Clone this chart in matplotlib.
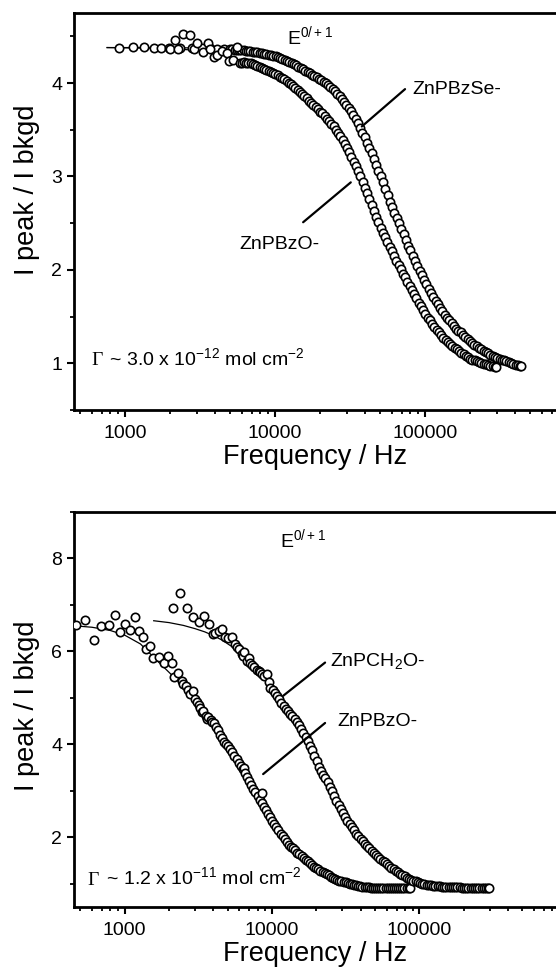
import matplotlib
matplotlib.use('Agg')
import matplotlib.pyplot as plt
from matplotlib.ticker import FixedLocator, MultipleLocator, LogLocator, FuncFormatter, NullFormatter

plt.rcParams['font.family'] = ['Liberation Sans', 'DejaVu Sans']
plt.rcParams['mathtext.fontset'] = 'custom'
plt.rcParams['mathtext.rm'] = 'Liberation Sans'
plt.rcParams['mathtext.it'] = 'Liberation Sans:italic'
plt.rcParams['mathtext.bf'] = 'Liberation Sans:bold'

# ================= data (frequency Hz, I_peak/I_bkgd) =================
# ---- top panel: Gamma ~ 3.0e-12 mol cm-2 ----
top_bzo = [
    (1995, 4.36), (2160, 4.46), (2265, 4.36), (2430, 4.53), (2720, 4.51), (2900, 4.36), (3020, 4.43),
    (3300, 4.33), (3550, 4.43), (3700, 4.36), (3950, 4.28), (4100, 4.30), (4400, 4.34), (4800, 4.32),
    (4950, 4.24), (5250, 4.25), (5570, 4.39), (5800, 4.21), (6010, 4.22),
    (6200, 4.23), (6420, 4.22), (6650, 4.215), (6880, 4.21), (7120, 4.20), (7370, 4.19), (7630, 4.18),
    (7900, 4.17), (8170, 4.16), (8460, 4.15), (8750, 4.14), (9060, 4.13), (9380, 4.12), (9710, 4.11),
    (10050, 4.10), (10400, 4.085), (10760, 4.07), (11140, 4.055), (11530, 4.04), (11930, 4.02),
    (12350, 4.005), (12780, 3.99), (13230, 3.97), (13690, 3.95), (14170, 3.93), (14670, 3.905),
    (15180, 3.885), (15710, 3.86), (16260, 3.835), (16830, 3.81), (17420, 3.79), (18030, 3.765),
    (18660, 3.74), (19310, 3.72), (19990, 3.69), (20690, 3.68), (21410, 3.65), (22160, 3.62),
    (22940, 3.59), (23740, 3.56), (24570, 3.535), (25430, 3.50), (26320, 3.465), (27240, 3.43),
    (28190, 3.39), (29180, 3.35), (30200, 3.30), (31260, 3.26), (32350, 3.21), (33480, 3.16),
    (34650, 3.11), (35860, 3.06), (37120, 3.00), (38420, 2.94), (39760, 2.88), (41150, 2.82),
    (42590, 2.76), (44080, 2.69), (45620, 2.63), (47220, 2.57), (48870, 2.51), (50580, 2.45),
    (52350, 2.40), (54180, 2.35), (56080, 2.30), (58040, 2.25), (60070, 2.20), (62170, 2.15),
    (64350, 2.10), (66600, 2.05), (68930, 2.01), (71340, 1.96), (73840, 1.92), (76420, 1.87),
    (79100, 1.83), (81860, 1.78), (84730, 1.74), (87690, 1.70), (90760, 1.65), (93940, 1.61),
    (97230, 1.57), (100630, 1.53), (104150, 1.49), (107800, 1.46), (111570, 1.42), (115470, 1.39),
    (119520, 1.36), (123700, 1.33), (128030, 1.30), (132510, 1.27), (137150, 1.25), (141950, 1.23),
    (146920, 1.21), (152060, 1.19), (157380, 1.16), (162890, 1.15), (168590, 1.13), (174490, 1.11),
    (180600, 1.10), (186920, 1.08), (193460, 1.07), (200230, 1.05), (207240, 1.04), (214490, 1.03),
    (222000, 1.02), (229770, 1.01), (237810, 1.00), (246130, 0.995), (254750, 0.99), (263660, 0.98),
    (272890, 0.975), (282440, 0.97), (292330, 0.965), (296000, 0.96)]

top_bzse = [
    (907, 4.38), (1125, 4.385), (1345, 4.39), (1567, 4.38), (1745, 4.375), (1954, 4.38), (2335, 4.38),
    (2790, 4.375), (3260, 4.37), (3700, 4.37), (4100, 4.365), (4540, 4.36),
    (5000, 4.36), (5180, 4.36), (5370, 4.355), (5560, 4.355), (5760, 4.35), (5960, 4.35), (6170, 4.35),
    (6390, 4.345), (6620, 4.34), (6860, 4.34), (7100, 4.335), (7360, 4.33), (7620, 4.33), (7890, 4.325),
    (8170, 4.32), (8460, 4.315), (8760, 4.31), (9080, 4.305), (9400, 4.30), (9740, 4.295), (10090, 4.29),
    (10450, 4.28), (10820, 4.27), (11200, 4.26), (11600, 4.25), (12020, 4.24), (12450, 4.23),
    (12890, 4.215), (13350, 4.20), (13830, 4.19), (14320, 4.175), (14830, 4.16), (15360, 4.15),
    (15910, 4.13), (16480, 4.12), (17070, 4.105), (17680, 4.09), (18310, 4.075), (18960, 4.06),
    (19640, 4.045), (20340, 4.03), (21070, 4.01), (21820, 4.00), (22600, 3.98), (23400, 3.96),
    (24240, 3.935), (25110, 3.91), (26000, 3.885), (26930, 3.86), (27890, 3.83), (28890, 3.80),
    (29920, 3.77), (30990, 3.73), (32100, 3.70), (33240, 3.66), (34430, 3.62), (35660, 3.57),
    (36930, 3.52), (38250, 3.47), (39620, 3.42), (41030, 3.36), (42500, 3.31), (44020, 3.25),
    (45590, 3.19), (47220, 3.12), (48900, 3.06), (50650, 3.00), (52460, 2.94), (54330, 2.87),
    (56270, 2.80), (58280, 2.73), (60370, 2.67), (62520, 2.61), (64750, 2.56), (67070, 2.50),
    (69460, 2.44), (71940, 2.38), (74510, 2.32), (77170, 2.26), (79930, 2.21), (82780, 2.15),
    (85740, 2.10), (88800, 2.04), (91970, 1.99), (95250, 1.94), (98660, 1.89), (102180, 1.85),
    (105830, 1.80), (109610, 1.75), (113520, 1.71), (117580, 1.67), (121780, 1.63), (126130, 1.59),
    (130630, 1.56), (135300, 1.52), (140130, 1.49), (145130, 1.46), (150320, 1.43), (155690, 1.40),
    (161250, 1.37), (167000, 1.35), (172970, 1.33), (179150, 1.30), (185550, 1.28), (192170, 1.26),
    (199040, 1.24), (206150, 1.22), (213510, 1.20), (221140, 1.18), (229040, 1.16), (237220, 1.15),
    (245690, 1.13), (254470, 1.12), (263560, 1.11), (272970, 1.09), (282720, 1.08), (292820, 1.07),
    (303280, 1.06), (314110, 1.05), (325330, 1.04), (336950, 1.03), (348980, 1.02), (361450, 1.01),
    (374360, 1.00), (387730, 0.99), (401580, 0.985), (415920, 0.98), (430780, 0.97), (436000, 0.97)]

top_bzse_fit = [
    (760, 4.38), (1000, 4.38), (2000, 4.38), (3000, 4.375), (4000, 4.37), (5000, 4.36), (6000, 4.35),
    (7000, 4.34), (8000, 4.325), (9000, 4.31), (10000, 4.29), (12500, 4.23), (15600, 4.15),
    (19500, 4.06), (23000, 3.97), (27100, 3.85), (30200, 3.75), (33700, 3.63), (37500, 3.49),
    (41800, 3.33), (46500, 3.15), (51800, 2.97), (57700, 2.77), (64300, 2.57), (71600, 2.39),
    (79700, 2.21), (88700, 2.04), (98800, 1.89), (110000, 1.75), (122000, 1.63), (136000, 1.52),
    (151000, 1.43), (168000, 1.35), (187000, 1.28), (208000, 1.22), (231000, 1.16), (257000, 1.12),
    (286000, 1.08), (318000, 1.05), (353000, 1.02), (392000, 0.99), (436000, 0.97)]
top_bzo_fit = [
    (760, 4.38), (2000, 4.37), (3000, 4.35), (4000, 4.32), (5000, 4.28), (6000, 4.24), (7000, 4.20),
    (8200, 4.16), (10000, 4.09), (12000, 4.01), (14000, 3.93), (16300, 3.83), (18900, 3.73),
    (22100, 3.62), (25800, 3.49), (30000, 3.31), (34600, 3.11), (39800, 2.87), (45700, 2.62),
    (52500, 2.39), (60200, 2.19), (69000, 2.00), (79400, 1.80), (91200, 1.62), (105000, 1.47),
    (120000, 1.34), (138000, 1.23), (158000, 1.15), (182000, 1.09), (209000, 1.04), (240000, 1.00),
    (275000, 0.97), (295000, 0.96)]

# ---- bottom panel: Gamma ~ 1.2e-11 mol cm-2 ----
bot_bzo = [
    (470, 6.56), (541, 6.68), (622, 6.25), (695, 6.54), (778, 6.57), (855, 6.79), (935, 6.41),
    (1010, 6.59), (1093, 6.46), (1181, 6.74), (1244, 6.45), (1331, 6.32), (1395, 6.05), (1493, 6.12),
    (1556, 5.85), (1701, 5.87), (1840, 5.76), (1968, 5.91), (2095, 5.74), (2173, 5.44), (2302, 5.53),
    (2450, 5.37), (2500, 5.30), (2600, 5.25), (2700, 5.18), (2793, 5.08), (2900, 5.15), (3000, 4.98),
    (3100, 4.92), (3200, 4.85), (3264, 4.79), (3350, 4.70), (3400, 4.72), (3550, 4.62), (3620, 4.55),
    (3700, 4.58), (3850, 4.52), (3930, 4.48),
    (4020, 4.45), (4150, 4.38), (4290, 4.30), (4430, 4.20), (4580, 4.13), (4730, 4.06), (4890, 4.01),
    (5050, 3.96), (5210, 3.91), (5390, 3.84), (5560, 3.76), (5750, 3.68), (5940, 3.60), (6140, 3.53),
    (6340, 3.46), (6450, 3.50), (6550, 3.38), (6770, 3.30), (6990, 3.21), (7230, 3.13), (7470, 3.05),
    (7710, 2.97), (7970, 2.89), (8240, 2.81), (8510, 2.73), (8550, 2.95), (8790, 2.66), (9090, 2.58),
    (9390, 2.50), (9700, 2.43), (10030, 2.36), (10360, 2.29), (10710, 2.22), (11060, 2.15),
    (11430, 2.08), (11810, 2.02), (12210, 1.96), (12610, 1.90), (13030, 1.84), (13470, 1.80),
    (13920, 1.76), (14380, 1.72), (14860, 1.67), (15350, 1.63), (15870, 1.59), (16390, 1.55),
    (16940, 1.51), (17510, 1.48), (18090, 1.44), (18690, 1.41), (19320, 1.37), (19960, 1.34),
    (20620, 1.31), (21310, 1.28), (22020, 1.25), (22760, 1.23), (23520, 1.20), (24300, 1.18),
    (25110, 1.15), (25950, 1.13), (26810, 1.11), (27710, 1.09), (28630, 1.07), (29590, 1.06),
    (30570, 1.04), (31590, 1.03), (32650, 1.01), (33740, 1.00), (34860, 0.99), (36020, 0.98),
    (37220, 0.97), (38460, 0.96), (39750, 0.95), (41070, 0.94), (42440, 0.935), (43850, 0.93),
    (45320, 0.92), (46830, 0.915), (48390, 0.91), (50000, 0.91), (51670, 0.905), (53390, 0.905),
    (55170, 0.90), (57010, 0.90), (58910, 0.90), (60880, 0.90), (62900, 0.90), (65000, 0.90),
    (67170, 0.90), (69410, 0.90), (71720, 0.90), (74110, 0.90), (76590, 0.90), (79140, 0.90),
    (81780, 0.90), (84510, 0.90), (86000, 0.90)]
bot_bzo_fit = [
    (460, 6.55), (600, 6.52), (800, 6.45), (1000, 6.35), (1280, 6.16), (1660, 5.80), (2000, 5.55),
    (2400, 5.30), (2800, 5.05), (3300, 4.76), (3900, 4.45), (4600, 4.10), (5300, 3.78), (6100, 3.45),
    (7000, 3.13), (8000, 2.82), (9300, 2.50), (10800, 2.20), (12500, 1.93), (14500, 1.70),
    (17000, 1.50), (20000, 1.34), (24000, 1.21), (29000, 1.11), (35000, 1.04), (43000, 0.99),
    (55000, 0.96), (70000, 0.94), (86000, 0.93)]

bot_ch2o = [
    (2130, 6.93), (2388, 7.26), (2650, 6.93), (2910, 6.74), (3180, 6.64), (3437, 6.77), (3716, 6.59),
    (3980, 6.38), (4100, 6.40), (4350, 6.45), (4580, 6.48), (4820, 6.30), (5000, 6.28), (5350, 6.30),
    (5600, 6.15), (5790, 6.09), (6000, 6.05), (6250, 5.94), (6400, 5.90), (6500, 5.98), (6760, 5.80),
    (7000, 5.85), (7100, 5.75), (7300, 5.70), (7510, 5.66), (7900, 5.60), (8100, 5.58), (8340, 5.55),
    (8600, 5.52), (8800, 5.48), (9250, 5.51), (9500, 5.35),
    (9750, 5.22), (10090, 5.16), (10440, 5.10), (10800, 5.04), (11180, 4.97), (11570, 4.90),
    (11970, 4.83), (12390, 4.77), (12820, 4.71), (13270, 4.65), (13740, 4.60), (14220, 4.54),
    (14720, 4.48), (15230, 4.41), (15760, 4.34), (16310, 4.25), (16880, 4.16), (17470, 4.07),
    (18080, 3.96), (18710, 3.87), (19370, 3.76), (20050, 3.64), (20750, 3.52), (21470, 3.43),
    (22220, 3.35), (23000, 3.27), (23800, 3.18), (24640, 3.09), (25500, 2.99), (26390, 2.89),
    (27310, 2.79), (28270, 2.69), (29260, 2.61), (30280, 2.52), (31340, 2.44), (32440, 2.36),
    (33570, 2.29), (34750, 2.22), (35960, 2.15), (37220, 2.08), (38520, 2.02), (39870, 1.96),
    (41260, 1.91), (42710, 1.86), (44200, 1.81), (45750, 1.76), (47350, 1.71), (49000, 1.67),
    (50720, 1.62), (52490, 1.58), (54330, 1.54), (56230, 1.50), (58200, 1.46), (60230, 1.42),
    (62340, 1.38), (64520, 1.35), (66780, 1.31), (69110, 1.28), (71530, 1.25), (74040, 1.22),
    (76630, 1.19), (79310, 1.16), (82080, 1.13), (84950, 1.11), (87930, 1.09), (91000, 1.07),
    (94190, 1.05), (97490, 1.03), (100900, 1.01), (104430, 1.00), (108090, 0.99), (111870, 0.98),
    (115790, 0.97), (119840, 0.965), (124030, 0.96), (128370, 0.955), (132870, 0.95), (137520, 0.945),
    (142330, 0.94), (147310, 0.935), (152470, 0.93), (157800, 0.93), (163330, 0.925), (169040, 0.925),
    (174960, 0.92), (181080, 0.92), (187420, 0.92), (193980, 0.915), (200770, 0.915), (207800, 0.915),
    (215070, 0.91), (222600, 0.91), (230390, 0.91), (238450, 0.91), (246800, 0.91), (255440, 0.91),
    (264380, 0.91), (273630, 0.91), (283200, 0.91), (293120, 0.91), (296000, 0.91)]
bot_ch2o_fit = [
    (1574, 6.66), (2000, 6.62), (2500, 6.56), (3000, 6.49), (3500, 6.42), (4000, 6.34), (4600, 6.24),
    (5300, 6.11), (6000, 5.98), (7000, 5.79), (8000, 5.60), (9000, 5.42), (10000, 5.22), (11000, 5.04),
    (12000, 4.85), (13300, 4.62), (14800, 4.37), (16400, 4.12), (18200, 3.85), (20200, 3.56),
    (22400, 3.27), (24900, 2.98), (27600, 2.70), (30600, 2.43), (34000, 2.18), (38200, 1.94),
    (44100, 1.71), (51500, 1.50), (60400, 1.33), (71000, 1.19), (82400, 1.09), (96000, 1.02),
    (112000, 0.98), (131000, 0.95), (170000, 0.93), (225000, 0.92), (296000, 0.91)]

x_major = [1000, 10000, 100000]
top_yticks = [1, 2, 3, 4]
bot_yticks = [2, 4, 6, 8]


def fx(series):
    return [p[0] for p in series]


def fy(series):
    return [p[1] for p in series]


# ================= figure =================
W, H = 556, 969
fig = plt.figure(figsize=(W / 100, H / 100), dpi=100)
ax1 = fig.add_axes([74 / W, (H - 410) / H, (W - 74) / W, (410 - 13) / H])
ax2 = fig.add_axes([74 / W, (H - 907) / H, (W - 74) / W, (907 - 512) / H])

mk = dict(linestyle='none', marker='o', mfc='white', mec='black', ms=6.0, mew=1.2, zorder=3)
ln = dict(color='black', lw=0.9, zorder=2)


def style(ax, xlim, ylim, yticks, yminor, ylabel_y):
    ax.set_xscale('log')
    ax.set_xlim(*xlim)
    ax.set_ylim(*ylim)
    ax.xaxis.set_major_locator(FixedLocator(x_major))
    ax.xaxis.set_major_formatter(FuncFormatter(lambda v, p: f"{v:.0f}"))
    ax.xaxis.set_minor_locator(LogLocator(base=10, subs=range(2, 10), numticks=20))
    ax.xaxis.set_minor_formatter(NullFormatter())
    ax.yaxis.set_major_locator(FixedLocator(yticks))
    ax.yaxis.set_minor_locator(MultipleLocator(yminor))
    ax.spines['right'].set_visible(False)
    for s in ('left', 'bottom', 'top'):
        ax.spines[s].set_linewidth(2.0)
    ax.tick_params(which='major', direction='out', length=5, width=1.5, labelsize=14,
                   top=False, right=False)
    ax.tick_params(which='minor', direction='out', length=3, width=1.3, top=False, right=False)
    ax.tick_params(axis='x', which='major', pad=6)
    ax.tick_params(axis='y', which='major', pad=3.5)
    ax.set_xlabel('Frequency / Hz', fontsize=19.5, labelpad=1)
    ax.set_ylabel('I peak / I bkgd', fontsize=19.5)
    ax.yaxis.set_label_coords(-0.07, ylabel_y)


def gamma_text(ax, x, y, rest):
    ax.text(x, y, '\u0393', fontsize=14, family='Liberation Serif', va='baseline', ha='left')
    ax.annotate(rest, xy=(x, y), xytext=(9.5, 0), textcoords='offset points',
                fontsize=14, va='baseline', ha='left')


def leader(ax, p0, p1):
    ax.annotate('', xy=p0, xytext=p1,
                arrowprops=dict(arrowstyle='-', lw=1.6, color='black', shrinkA=0, shrinkB=0))


# ---- top panel ----
ax1.plot(fx(top_bzse_fit), fy(top_bzse_fit), **ln)
ax1.plot(fx(top_bzo_fit), fy(top_bzo_fit), **ln)
ax1.plot(fx(top_bzse), fy(top_bzse), **mk)
ax1.plot(fx(top_bzo), fy(top_bzo), **mk)
style(ax1, (457, 747000), (0.5, 4.75), top_yticks, 0.5, 0.555)
ax1.text(12000, 4.42, r'E$^{\mathregular{0/+1}}$', fontsize=14, va='baseline')
ax1.text(81900, 3.885, 'ZnPBzSe-', fontsize=14, va='baseline')
leader(ax1, (37900, 3.535), (73600, 3.935))
ax1.text(5750, 2.225, 'ZnPBzO-', fontsize=14, va='baseline')
leader(ax1, (32000, 2.937), (15400, 2.51))
gamma_text(ax1, 593, 0.979, r' ~ 3.0 x 10$^{\mathregular{-12}}$ mol cm$^{\mathregular{-2}}$')

# ---- bottom panel ----
ax2.plot(fx(bot_bzo_fit), fy(bot_bzo_fit), **ln)
ax2.plot(fx(bot_ch2o_fit), fy(bot_ch2o_fit), **ln)
ax2.plot(fx(bot_bzo), fy(bot_bzo), **mk)
ax2.plot(fx(bot_ch2o), fy(bot_ch2o), **mk)
style(ax2, (453, 845000), (0.5, 9.0), bot_yticks, 1, 0.51)
ax2.text(11400, 8.255, r'E$^{\mathregular{0/+1}}$', fontsize=14, va='baseline')
ax2.text(24800, 5.695, r'ZnPCH$_{\mathregular{2}}$O-', fontsize=14, va='baseline')
leader(ax2, (11900, 5.045), (22900, 5.76))
ax2.text(27700, 4.396, 'ZnPBzO-', fontsize=14, va='baseline')
leader(ax2, (8700, 3.36), (22900, 4.46))
gamma_text(ax2, 559, 0.983, r' ~ 1.2 x 10$^{\mathregular{-11}}$ mol cm$^{\mathregular{-2}}$')

fig.savefig('out.png', dpi=100)
